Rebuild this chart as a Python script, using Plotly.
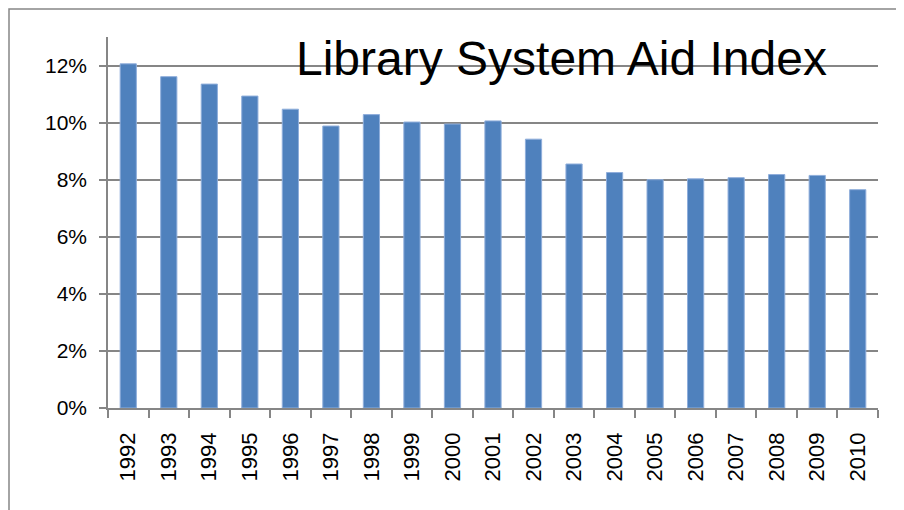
import plotly.graph_objects as go

years = [str(y) for y in range(1992, 2011)]
index_pct = [12.06, 11.61, 11.35, 10.93, 10.47, 9.88, 10.28, 10.02, 9.95, 10.06,
             9.42, 8.55, 8.25, 8.00, 8.03, 8.07, 8.18, 8.15, 7.65]
y_ticks = [0, 2, 4, 6, 8, 10, 12]
y_tick_labels = ["0%", "2%", "4%", "6%", "8%", "10%", "12%"]
title_text = "Library System Aid Index"

FONT = "Liberation Sans"
OFF = 8  # page body margin offset
W, H = 904, 510
L, R, T, B = 108 - OFF, 26 + OFF, 37 - OFF, 102 + OFF
pw, ph = W - L - R, H - T - B

fig = go.Figure(go.Bar(
    x=years, y=index_pct,
    marker=dict(color="#4F81BD", line=dict(color="#8FAEDB", width=1)),
))

fig.update_layout(
    width=W, height=H,
    margin=dict(l=L, r=R, t=T, b=B, pad=0),
    plot_bgcolor="white", paper_bgcolor="white",
    bargap=0.6, showlegend=False,
    font=dict(family=FONT, size=22, color="#000000"),
    xaxis=dict(
        type="category", tickangle=-90, tickson="boundaries",
        ticks="outside", ticklen=8, tickcolor="#868686", tickwidth=1.5,
        showline=True, linecolor="#868686", linewidth=1.5,
        showgrid=False, ticklabelstandoff=14,
        tickfont=dict(family=FONT, size=22, color="#000000"),
    ),
    yaxis=dict(
        range=[0, 13], tickmode="array", tickvals=y_ticks, ticktext=y_tick_labels,
        ticks="outside", ticklen=7, tickcolor="#868686", tickwidth=1.5,
        showline=True, linecolor="#868686", linewidth=1.5,
        showgrid=True, gridcolor="#868686", gridwidth=1.5,
        zeroline=False, ticklabelstandoff=8,
        tickfont=dict(family=FONT, size=21, color="#000000"),
    ),
    annotations=[dict(
        text=title_text, x=(561 - 108) / pw, y=1 - (58 - 37) / ph,
        xref="paper", yref="paper", xanchor="center", yanchor="middle",
        showarrow=False, font=dict(family=FONT, size=48, color="#000000"),
    )],
    shapes=[dict(
        type="rect", xref="paper", yref="paper",
        x0=(9 - 108) / pw, x1=(W + 5 - 108) / pw,
        y0=-(H + 20 - 408) / ph, y1=1 + (37 - 9) / ph,
        line=dict(color="#868686", width=1.5), layer="below",
    )],
)

fig.write_html("out.html")
